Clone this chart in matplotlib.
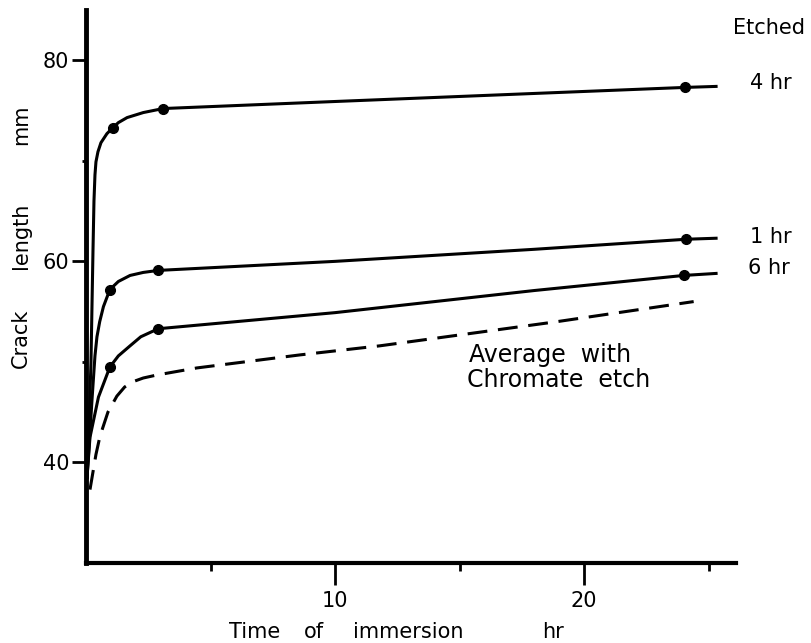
import matplotlib.pyplot as plt

plt.rcParams['font.family'] = ['DejaVu Sans']

# curves (time in hr, crack length in mm)
t_4hr = [0.04, 0.1, 0.2, 0.28, 0.32, 0.36, 0.4, 0.48, 0.6, 0.84, 1.04, 1.3, 1.65, 2.3, 3.1, 10, 18, 24.05, 25.3]
len_4hr = [38.5, 42.0, 50.0, 61.0, 66.0, 68.6, 69.9, 70.9, 71.8, 72.7, 73.2, 73.8, 74.3, 74.8, 75.2, 75.9, 76.7, 77.3, 77.4]

t_1hr = [0.04, 0.16, 0.24, 0.36, 0.44, 0.55, 0.7, 0.96, 1.3, 1.77, 2.3, 2.9, 10, 18, 24.1, 25.3]
len_1hr = [38.5, 43.0, 46.2, 50.6, 52.5, 54.0, 55.5, 57.2, 58.0, 58.6, 58.9, 59.1, 60.0, 61.2, 62.2, 62.3]

t_6hr = [0.04, 0.16, 0.5, 0.96, 1.3, 1.77, 2.2, 2.9, 10, 18, 24.0, 25.3]
len_6hr = [38.5, 42.5, 46.5, 49.5, 50.6, 51.6, 52.5, 53.3, 54.9, 57.1, 58.6, 58.8]

t_chromate = [0.16, 0.4, 0.56, 0.88, 1.24, 1.55, 1.85, 2.3, 2.85, 4.45, 8.6, 11.8, 18.9, 24.4]
len_chromate = [37.3, 40.8, 42.6, 45.0, 46.6, 47.5, 48.0, 48.4, 48.7, 49.4, 50.7, 51.6, 54.0, 56.0]

# measured points
pts_t_4hr = [1.08, 3.1, 24.05]
pts_len_4hr = [73.3, 75.2, 77.3]
pts_t_1hr = [0.96, 2.9, 24.1]
pts_len_1hr = [57.2, 59.1, 62.2]
pts_t_6hr = [0.96, 2.9, 24.0]
pts_len_6hr = [49.5, 53.3, 58.6]

W, H = 812, 643
fig = plt.figure(figsize=(W / 100, H / 100), dpi=100)
ax = fig.add_axes([86 / W, 80 / H, 650 / W, 553 / H])

lw = 2.2
ax.plot(t_4hr, len_4hr, color='black', lw=lw)
ax.plot(t_1hr, len_1hr, color='black', lw=lw)
ax.plot(t_6hr, len_6hr, color='black', lw=lw)
ax.plot(t_chromate, len_chromate, color='black', lw=lw, dashes=(6.5, 3.5))

for tt, ll in [(pts_t_4hr, pts_len_4hr), (pts_t_1hr, pts_len_1hr), (pts_t_6hr, pts_len_6hr)]:
    ax.plot(tt, ll, 'o', color='black', ms=7)

ax.set_xlim(0, 26.1)
ax.set_ylim(30, 85)

ax.spines['top'].set_visible(False)
ax.spines['right'].set_visible(False)
ax.spines['left'].set_linewidth(3.5)
ax.spines['bottom'].set_linewidth(3.0)

ax.set_xticks([10, 20])
ax.set_xticks([5, 15, 25], minor=True)
ax.set_yticks([40, 60, 80])
ax.set_yticks([50, 70], minor=True)
ax.tick_params(axis='x', which='major', length=16, width=2, pad=4, labelsize=15)
ax.tick_params(axis='x', which='minor', length=6, width=2)
ax.tick_params(axis='y', which='major', length=10, width=2, pad=2, labelsize=15)
ax.tick_params(axis='y', which='minor', length=3, width=2)

def px(x, y):
    return x / W, 1 - y / H

# axis labels, word by word as spaced in the original
for word, x in [('Time', 255), ('of', 314), ('immersion', 408), ('hr', 553)]:
    fig.text(*px(x, 632), word, fontsize=15, ha='center', va='center')
for word, y in [('Crack', 338), ('length', 236), ('mm', 125)]:
    fig.text(*px(21, y), word, fontsize=15, ha='center', va='center', rotation=90)

# curve labels
fig.text(*px(769, 28), 'Etched', fontsize=15, ha='center', va='center')
fig.text(*px(771, 83), '4 hr', fontsize=15, ha='center', va='center')
fig.text(*px(771, 237), '1 hr', fontsize=15, ha='center', va='center')
fig.text(*px(769, 268), '6 hr', fontsize=15, ha='center', va='center')
fig.text(*px(469, 355), 'Average  with', fontsize=17, ha='left', va='center')
fig.text(*px(467, 380), 'Chromate  etch', fontsize=17, ha='left', va='center')

fig.savefig('out.png', dpi=100)
